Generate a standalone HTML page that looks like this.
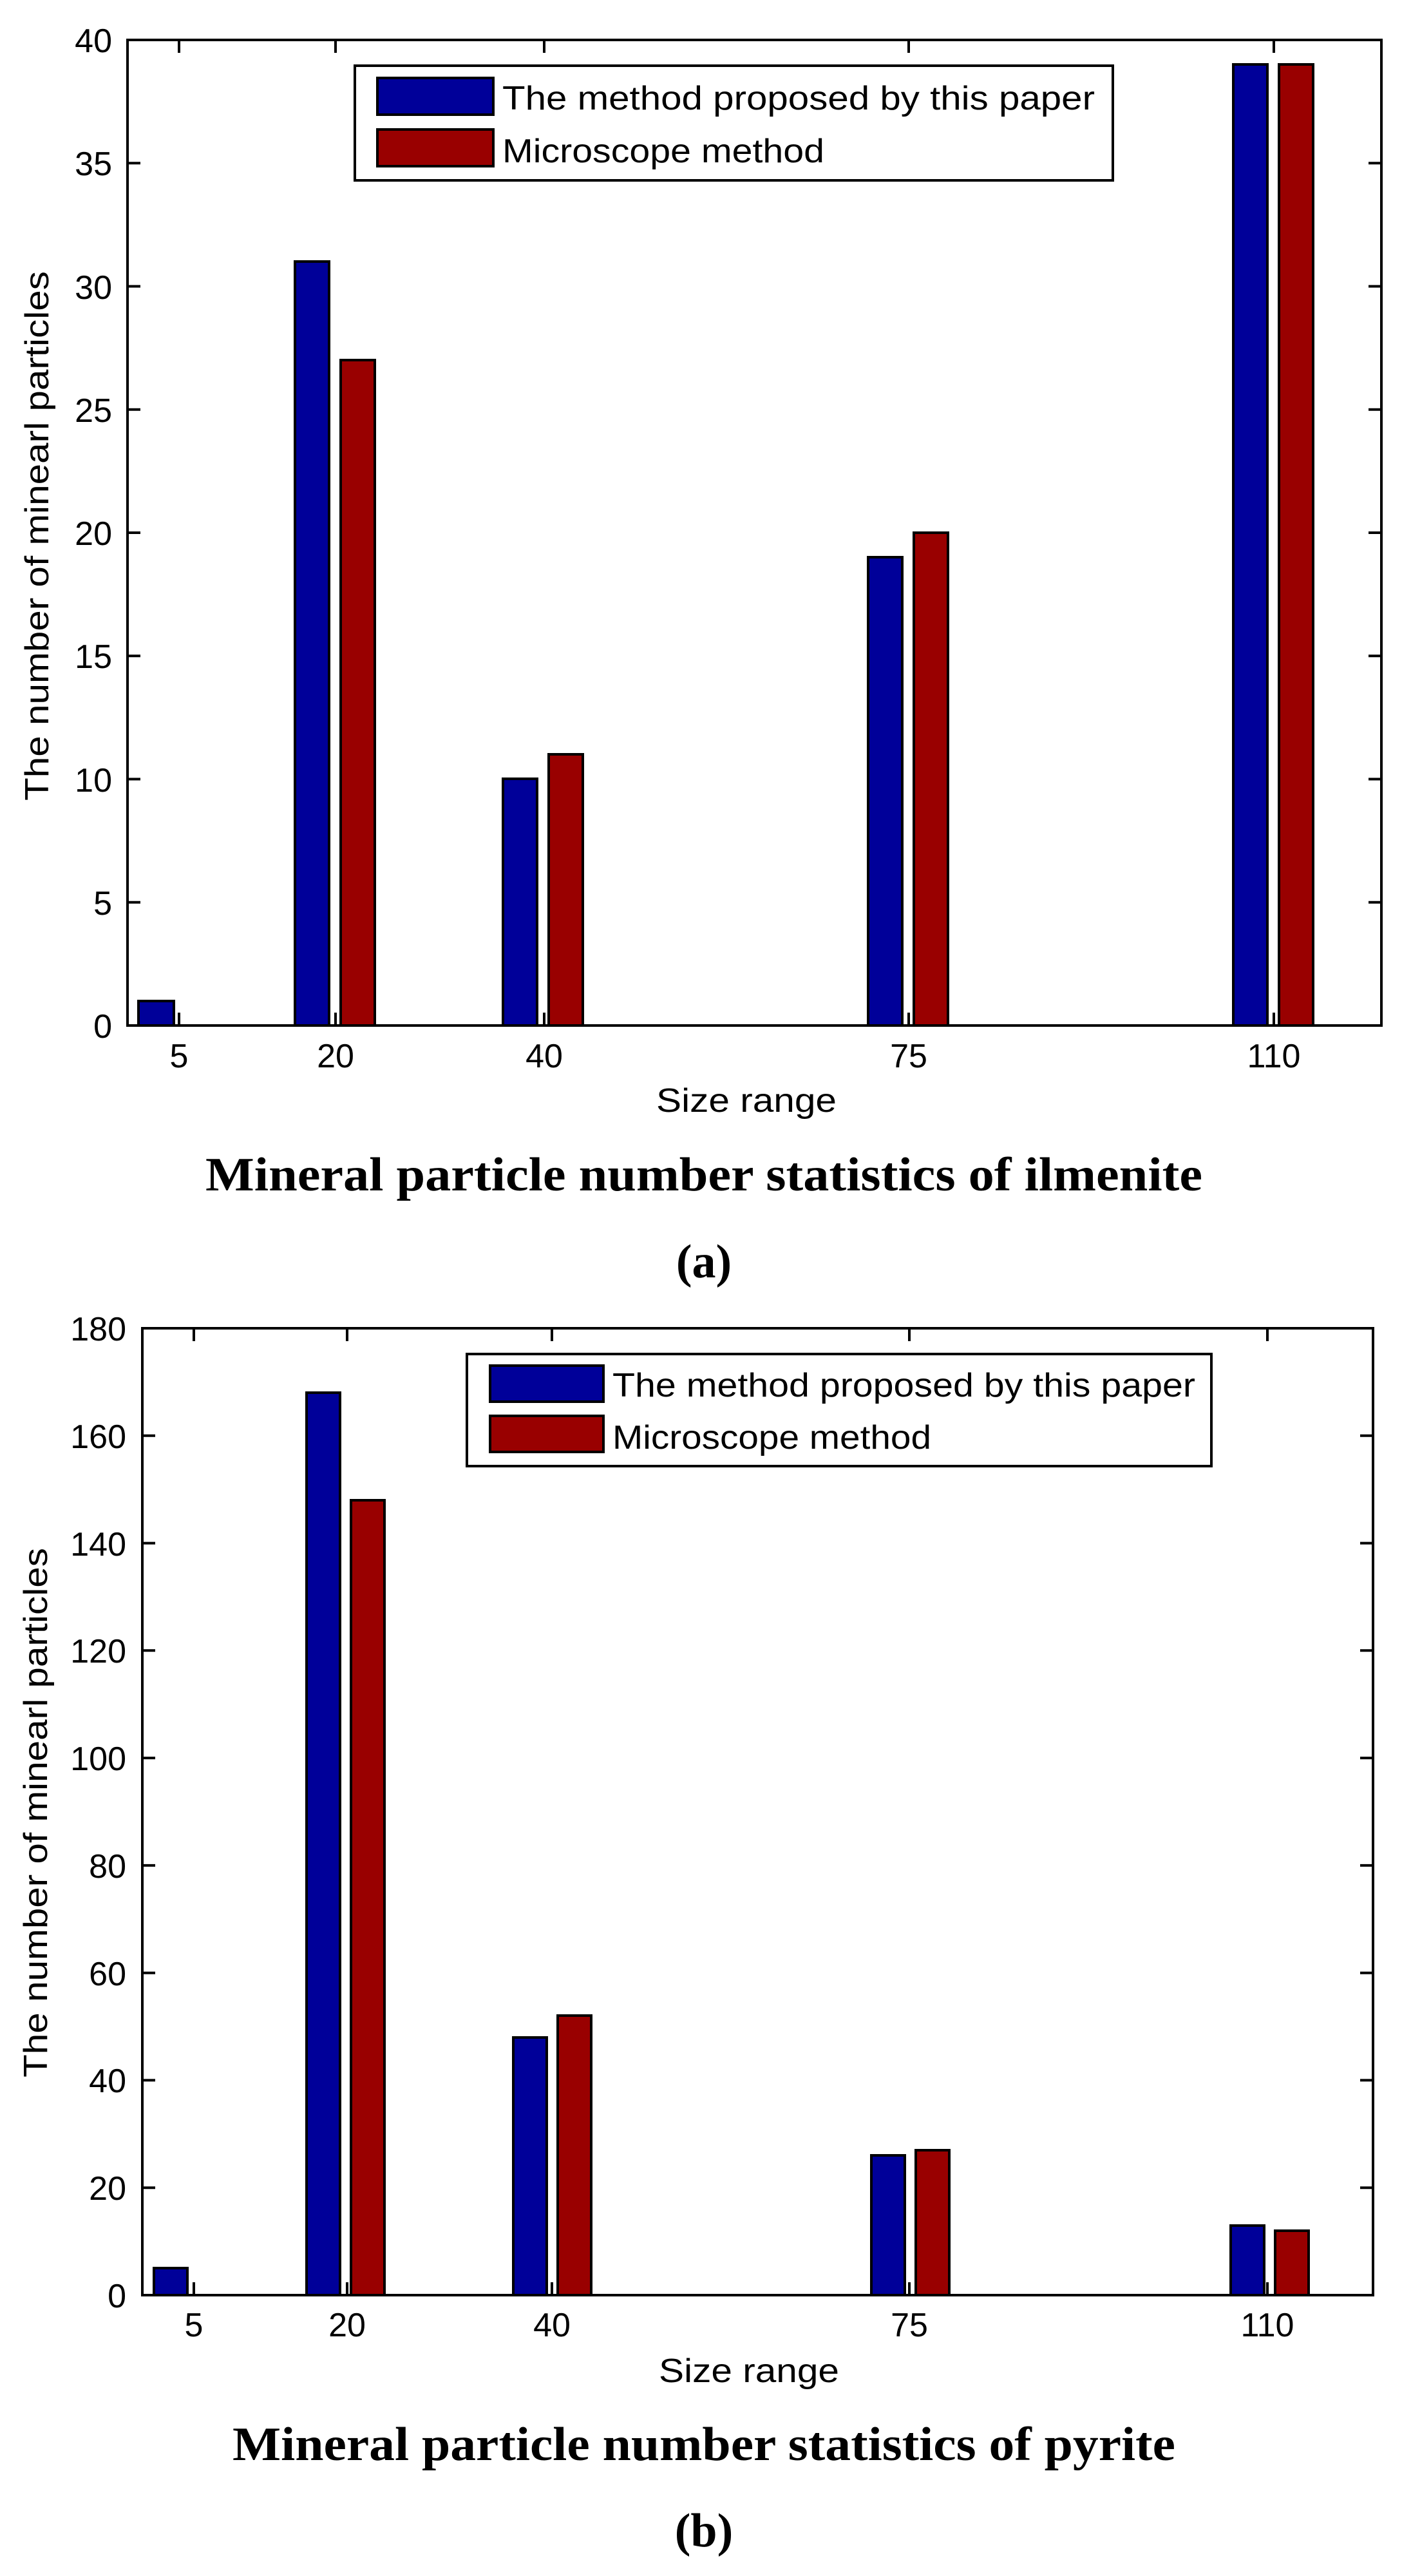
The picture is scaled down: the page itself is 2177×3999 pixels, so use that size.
<!DOCTYPE html>
<html><head><meta charset="utf-8"><style>html,body{margin:0;padding:0;background:#fff}svg{display:block}</style></head>
<body>
<svg width="2177" height="3999" viewBox="0 0 2177 3999" xmlns="http://www.w3.org/2000/svg">
<g font-family="Liberation Sans, sans-serif" fill="#000">
<!-- Chart A -->
<g stroke="#000" stroke-width="4">
<rect x="198" y="62" width="1947" height="1530" fill="#fff"/>
</g>
<g stroke="#000" stroke-width="4" fill="#000099">
<rect x="215" y="1554" width="55" height="38"/>
<rect x="458" y="406" width="53" height="1186"/>
<rect x="781" y="1209" width="53" height="383"/>
<rect x="1348" y="865" width="53" height="727"/>
<rect x="1915" y="100" width="53" height="1492"/>
</g>
<g stroke="#000" stroke-width="4" fill="#990000">
<rect x="529" y="559" width="53" height="1033"/>
<rect x="852" y="1171" width="53" height="421"/>
<rect x="1419" y="827" width="53" height="765"/>
<rect x="1986" y="100" width="53" height="1492"/>
</g>
<g stroke="#000" stroke-width="4">
<path d="M278 1592v-20M521 1592v-20M845 1592v-20M1411 1592v-20M1978 1592v-20M278 62v20M521 62v20M845 62v20M1411 62v20M1978 62v20"/>
<path d="M198 1400.75h20M198 1209.5h20M198 1018.25h20M198 827h20M198 635.75h20M198 444.5h20M198 253.25h20M2145 1400.75h-20M2145 1209.5h-20M2145 1018.25h-20M2145 827h-20M2145 635.75h-20M2145 444.5h-20M2145 253.25h-20"/>
</g>
<g font-size="52" text-anchor="end">
<text x="174" y="1611">0</text><text x="174" y="1420">5</text><text x="174" y="1229">10</text><text x="174" y="1037">15</text><text x="174" y="846">20</text><text x="174" y="655">25</text><text x="174" y="464">30</text><text x="174" y="272">35</text><text x="174" y="81">40</text>
</g>
<g font-size="52" text-anchor="middle">
<text x="278" y="1657">5</text><text x="521" y="1657">20</text><text x="845" y="1657">40</text><text x="1411" y="1657">75</text><text x="1978" y="1657">110</text>
<text x="1159" y="1726" textLength="280" lengthAdjust="spacingAndGlyphs">Size range</text>
<text transform="translate(75,832) rotate(-90)" textLength="822" lengthAdjust="spacingAndGlyphs">The number of minearl particles</text>
</g>
<rect x="551" y="102" width="1177" height="178" fill="#fff" stroke="#000" stroke-width="4"/>
<rect x="586" y="121" width="180" height="57" fill="#000099" stroke="#000" stroke-width="4"/>
<rect x="586" y="201" width="180" height="57" fill="#990000" stroke="#000" stroke-width="4"/>
<g font-size="52"><text x="780" y="170" textLength="920" lengthAdjust="spacingAndGlyphs">The method proposed by this paper</text><text x="780" y="252" textLength="500" lengthAdjust="spacingAndGlyphs">Microscope method</text></g>
<g font-family="Liberation Serif, serif" font-weight="bold" text-anchor="middle">
<text x="1093" y="1848" font-size="74" textLength="1548" lengthAdjust="spacingAndGlyphs">Mineral particle number statistics of ilmenite</text>
<text x="1093" y="1983" font-size="74">(a)</text>
</g>

<!-- Chart B -->
<rect x="221" y="2062" width="1911" height="1501" fill="#fff" stroke="#000" stroke-width="4"/>
<g stroke="#000" stroke-width="4" fill="#000099">
<rect x="239" y="3521" width="52" height="42"/>
<rect x="476" y="2162" width="52" height="1401"/>
<rect x="797" y="3163" width="52" height="400"/>
<rect x="1353" y="3346" width="52" height="217"/>
<rect x="1911" y="3455" width="52" height="108"/>
</g>
<g stroke="#000" stroke-width="4" fill="#990000">
<rect x="545" y="2329" width="52" height="1234"/>
<rect x="866" y="3129" width="52" height="434"/>
<rect x="1422" y="3338" width="52" height="225"/>
<rect x="1980" y="3463" width="52" height="100"/>
</g>
<g stroke="#000" stroke-width="4">
<path d="M301 3563v-20M539 3563v-20M857 3563v-20M1412 3563v-20M1968 3563v-20M301 2062v20M539 2062v20M857 2062v20M1412 2062v20M1968 2062v20"/>
<path d="M221 3396.2h20M221 3229.4h20M221 3062.7h20M221 2895.9h20M221 2729.1h20M221 2562.3h20M221 2395.6h20M221 2228.8h20M2132 3396.2h-20M2132 3229.4h-20M2132 3062.7h-20M2132 2895.9h-20M2132 2729.1h-20M2132 2562.3h-20M2132 2395.6h-20M2132 2228.8h-20"/>
</g>
<g font-size="52" text-anchor="end">
<text x="196" y="3582">0</text><text x="196" y="3415">20</text><text x="196" y="3248">40</text><text x="196" y="3082">60</text><text x="196" y="2915">80</text><text x="196" y="2748">100</text><text x="196" y="2581">120</text><text x="196" y="2415">140</text><text x="196" y="2248">160</text><text x="196" y="2081">180</text>
</g>
<g font-size="52" text-anchor="middle">
<text x="301" y="3627">5</text><text x="539" y="3627">20</text><text x="857" y="3627">40</text><text x="1412" y="3627">75</text><text x="1968" y="3627">110</text>
<text x="1163" y="3698" textLength="280" lengthAdjust="spacingAndGlyphs">Size range</text>
<text transform="translate(73,2814) rotate(-90)" textLength="822" lengthAdjust="spacingAndGlyphs">The number of minearl particles</text>
</g>
<rect x="725" y="2102" width="1156" height="174" fill="#fff" stroke="#000" stroke-width="4"/>
<rect x="761" y="2120" width="176" height="56" fill="#000099" stroke="#000" stroke-width="4"/>
<rect x="761" y="2198" width="176" height="56" fill="#990000" stroke="#000" stroke-width="4"/>
<g font-size="52"><text x="951" y="2168" textLength="905" lengthAdjust="spacingAndGlyphs">The method proposed by this paper</text><text x="951" y="2249" textLength="495" lengthAdjust="spacingAndGlyphs">Microscope method</text></g>
<g font-family="Liberation Serif, serif" font-weight="bold" text-anchor="middle">
<text x="1093" y="3819" font-size="74" textLength="1464" lengthAdjust="spacingAndGlyphs">Mineral particle number statistics of pyrite</text>
<text x="1093" y="3953" font-size="74">(b)</text>
</g>
</g>
</svg>
</body></html>
